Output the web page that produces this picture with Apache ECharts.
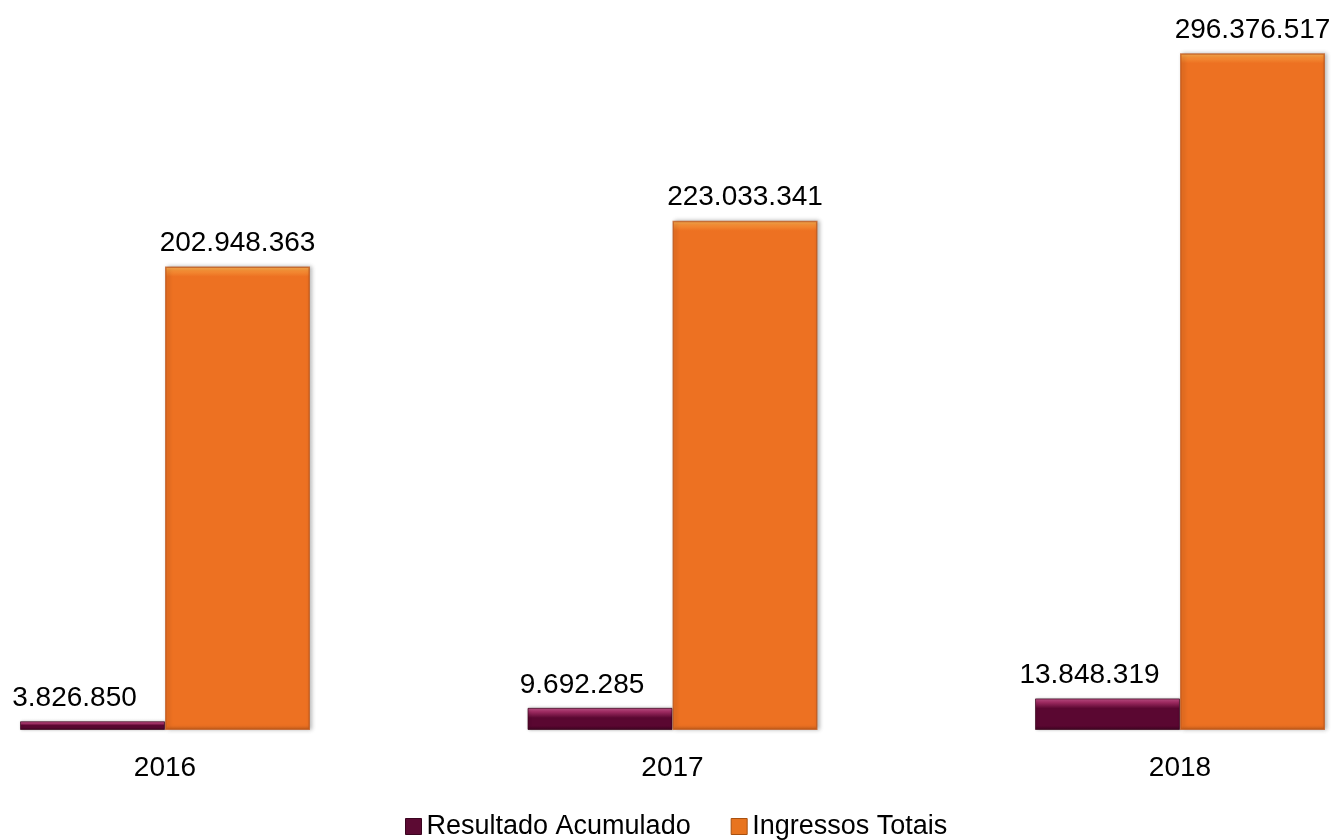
<!DOCTYPE html>
<html>
<head>
<meta charset="utf-8">
<style>
  html, body { margin: 0; padding: 0; background: #ffffff; }
  #chart { width: 1341px; height: 840px; }
</style>
<script src="https://cdn.jsdelivr.net/npm/echarts@6/dist/echarts.min.js"></script>
</head>
<body>
<div id="chart"></div>
<script>
// Years on the category axis
const years = ['2016', '2017', '2018'];
// Series values
const resultadoAcumulado = [3826850, 9692285, 13848319];
const ingressosTotais = [202948363, 223033341, 296376517];
const seriesNames = ['Resultado Acumulado', 'Ingressos Totais'];

const yMax = 300000000;
const gridTop = 45, gridBottom = 110, chartHeight = 840;
const plotHeight = chartHeight - gridTop - gridBottom;

function fmt(v) {
  return String(v).replace(/\B(?=(\d{3})+(?!\d))/g, '.');
}

// Bevelled fill: bright top edge, flat body, darker foot
function bevel(value, top, hi, body, foot) {
  const px = Math.max(value / yMax * plotHeight, 1);
  const a = Math.min(4 / px, 0.3);
  const b = Math.min(10 / px, 0.45);
  const c = Math.max(1 - 4 / px, 0.7);
  return {
    type: 'linear', x: 0, y: 0, x2: 0, y2: 1,
    colorStops: [
      { offset: 0, color: top },
      { offset: a, color: hi },
      { offset: b, color: body },
      { offset: c, color: body },
      { offset: 1, color: foot }
    ]
  };
}

const chart = echarts.init(document.getElementById('chart'));

const labelStyle = {
  show: true,
  position: 'top',
  distance: 9,
  fontFamily: 'Liberation Sans',
  fontSize: 28,
  color: '#000000',
  formatter: p => fmt(p.value)
};

chart.setOption({
  backgroundColor: '#ffffff',
  animation: false,
  grid: { left: 165, right: 161, top: gridTop, bottom: gridBottom },
  legend: {
    left: 400,
    top: 808,
    itemWidth: 16,
    itemHeight: 16,
    itemGap: 40,
    icon: 'rect',
    textStyle: { fontFamily: 'Liberation Sans', fontSize: 27, color: '#000000' },
    data: [
      { name: seriesNames[0], itemStyle: { color: '#5c0a33', borderColor: '#3a0520', borderWidth: 1 } },
      { name: seriesNames[1], itemStyle: { color: '#e8741f', borderColor: '#a8500f', borderWidth: 1 } }
    ]
  },
  xAxis: {
    type: 'category',
    data: years,
    boundaryGap: false,
    axisLine: { show: false },
    axisTick: { show: false },
    axisLabel: {
      margin: 24,
      fontFamily: 'Liberation Sans',
      fontSize: 28,
      color: '#000000'
    }
  },
  yAxis: {
    type: 'value',
    min: 0,
    max: yMax,
    show: false,
    splitLine: { show: false }
  },
  series: [
    {
      name: seriesNames[0],
      type: 'bar',
      clip: false,
      barWidth: 145,
      barGap: '0%',
      data: resultadoAcumulado.map(v => ({
        value: v,
        itemStyle: { color: bevel(v, '#c2548a', '#9c2a60', '#5a0731', '#3c0420') }
      })),
      itemStyle: {
        borderColor: 'rgba(60,5,30,0.7)',
        borderWidth: 1,
        shadowColor: 'rgba(0,0,0,0.25)',
        shadowBlur: 3,
        shadowOffsetX: 1
      },
      label: Object.assign({}, labelStyle, { offset: [-18, 0] })
    },
    {
      name: seriesNames[1],
      type: 'bar',
      clip: false,
      barWidth: 145,
      data: ingressosTotais.map(v => ({
        value: v,
        itemStyle: { color: bevel(v, '#fbb458', '#f48f36', '#ed7122', '#c9601b') }
      })),
      itemStyle: {
        borderColor: 'rgba(190,85,25,0.75)',
        borderWidth: 1.5,
        shadowColor: 'rgba(0,0,0,0.28)',
        shadowBlur: 4,
        shadowOffsetX: 2
      },
      label: labelStyle
    }
  ]
});
</script>
</body>
</html>
